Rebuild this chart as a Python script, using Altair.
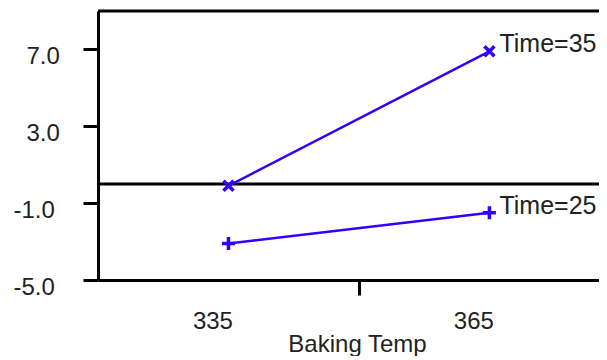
import altair as alt
import pandas as pd

# ---- data ----
temps = [335, 365]
time35 = [-0.1, 6.9]
time25 = [-3.1, -1.5]
series_names = ["Time=35", "Time=25"]

y_tick_values = [-5, -3, -1, 1, 3, 5, 7, 9]
y_label_values = [7, 3, -1, -5]
y_label_texts = ["7.0", "3.0", "-1.0", "-5.0"]
x_tick_values = [335, 350, 365]
x_label_values = [335, 365]

rows = []
for t, v in zip(temps, time35):
    rows.append({"temp": t, "value": v, "series": series_names[0]})
for t, v in zip(temps, time25):
    rows.append({"temp": t, "value": v, "series": series_names[1]})
df = pd.DataFrame(rows)
end_df = df[df["temp"] == temps[-1]]

ref_lines = pd.DataFrame({"v": [0, 9]})

BLUE = "#3300ff"
FONT = "Liberation Sans"
TXT = "#222222"

y_label_expr = " : ".join(
    f"datum.value == {v} ? '{t}'" for v, t in zip(y_label_values, y_label_texts)
) + " : ''"
x_label_expr = " || ".join(f"datum.value == {v}" for v in x_label_values)
x_label_expr = f"({x_label_expr}) ? datum.label : ''"

x_scale = alt.Scale(domain=[320, 377.6], nice=False, zero=False)
y_scale = alt.Scale(domain=[-5, 9], nice=False, zero=False)

x_axis = alt.Axis(
    title="Baking Temp",
    values=x_tick_values,
    labelExpr=x_label_expr,
    grid=False,
    domainColor="black",
    domainWidth=3,
    tickColor="black",
    tickWidth=3,
    tickSize=15,
    tickOpacity={"condition": {"test": "datum.value == 350", "value": 1}, "value": 0},
    labelFont=FONT,
    labelFontSize=24,
    labelColor=TXT,
    labelAlign="right",
    labelBaseline="top",
    labelOffset=4,
    labelPadding=14,
    labelOverlap=False,
    labelFlush=False,
    titleFont=FONT,
    titleFontSize=24,
    titleFontWeight="normal",
    titleColor=TXT,
    titleBaseline="alphabetic",
    titleY=71,
    titleX=259,
)

y_axis = alt.Axis(
    title=None,
    values=y_tick_values,
    labelExpr=y_label_expr,
    grid=False,
    domainColor="black",
    domainWidth=3,
    tickColor="black",
    tickWidth=3,
    tickSize=15,
    labelFont=FONT,
    labelFontSize=24,
    labelColor=TXT,
    labelAlign="left",
    labelBaseline="top",
    labelOffset=-5,
    labelPadding={"condition": {"test": "datum.value < 0", "value": 70}, "value": 57},
    labelOverlap=False,
    labelFlush=False,
)

base = alt.Chart(df)

lines = base.mark_line(color=BLUE, strokeWidth=2.5).encode(
    x=alt.X("temp:Q", scale=x_scale, axis=x_axis),
    y=alt.Y("value:Q", scale=y_scale, axis=y_axis),
    detail="series:N",
)

points = base.mark_point(filled=False, color=BLUE, strokeWidth=3.5, opacity=1).encode(
    x="temp:Q",
    y="value:Q",
    shape=alt.Shape(
        "series:N",
        scale=alt.Scale(
            domain=series_names,
            range=["M-1,-1L1,1M-1,1L1,-1", "M-1,0L1,0M0,-1L0,1"],
        ),
        legend=None,
    ),
    size=alt.Size(
        "series:N",
        scale=alt.Scale(domain=series_names, range=[100, 169]),
        legend=None,
    ),
)

labels = alt.Chart(end_df).mark_text(
    align="left", baseline="alphabetic", dx=10, dy=1,
    font=FONT, fontSize=25, color=TXT,
).encode(x="temp:Q", y="value:Q", text="series:N")

rules = alt.Chart(ref_lines).mark_rule(color="black", strokeWidth=3).encode(
    y=alt.Y("v:Q", scale=y_scale)
)

chart = (
    alt.layer(rules, lines, points, labels)
    .properties(
        width=501,
        height=269,
        autosize=alt.AutoSizeParams(type="none"),
        padding={"left": 90, "top": 3, "right": 0, "bottom": 76},
        background="white",
    )
    .configure_view(stroke=None)
)

chart.save("out.html", embed_options={"renderer": "svg", "actions": False})
